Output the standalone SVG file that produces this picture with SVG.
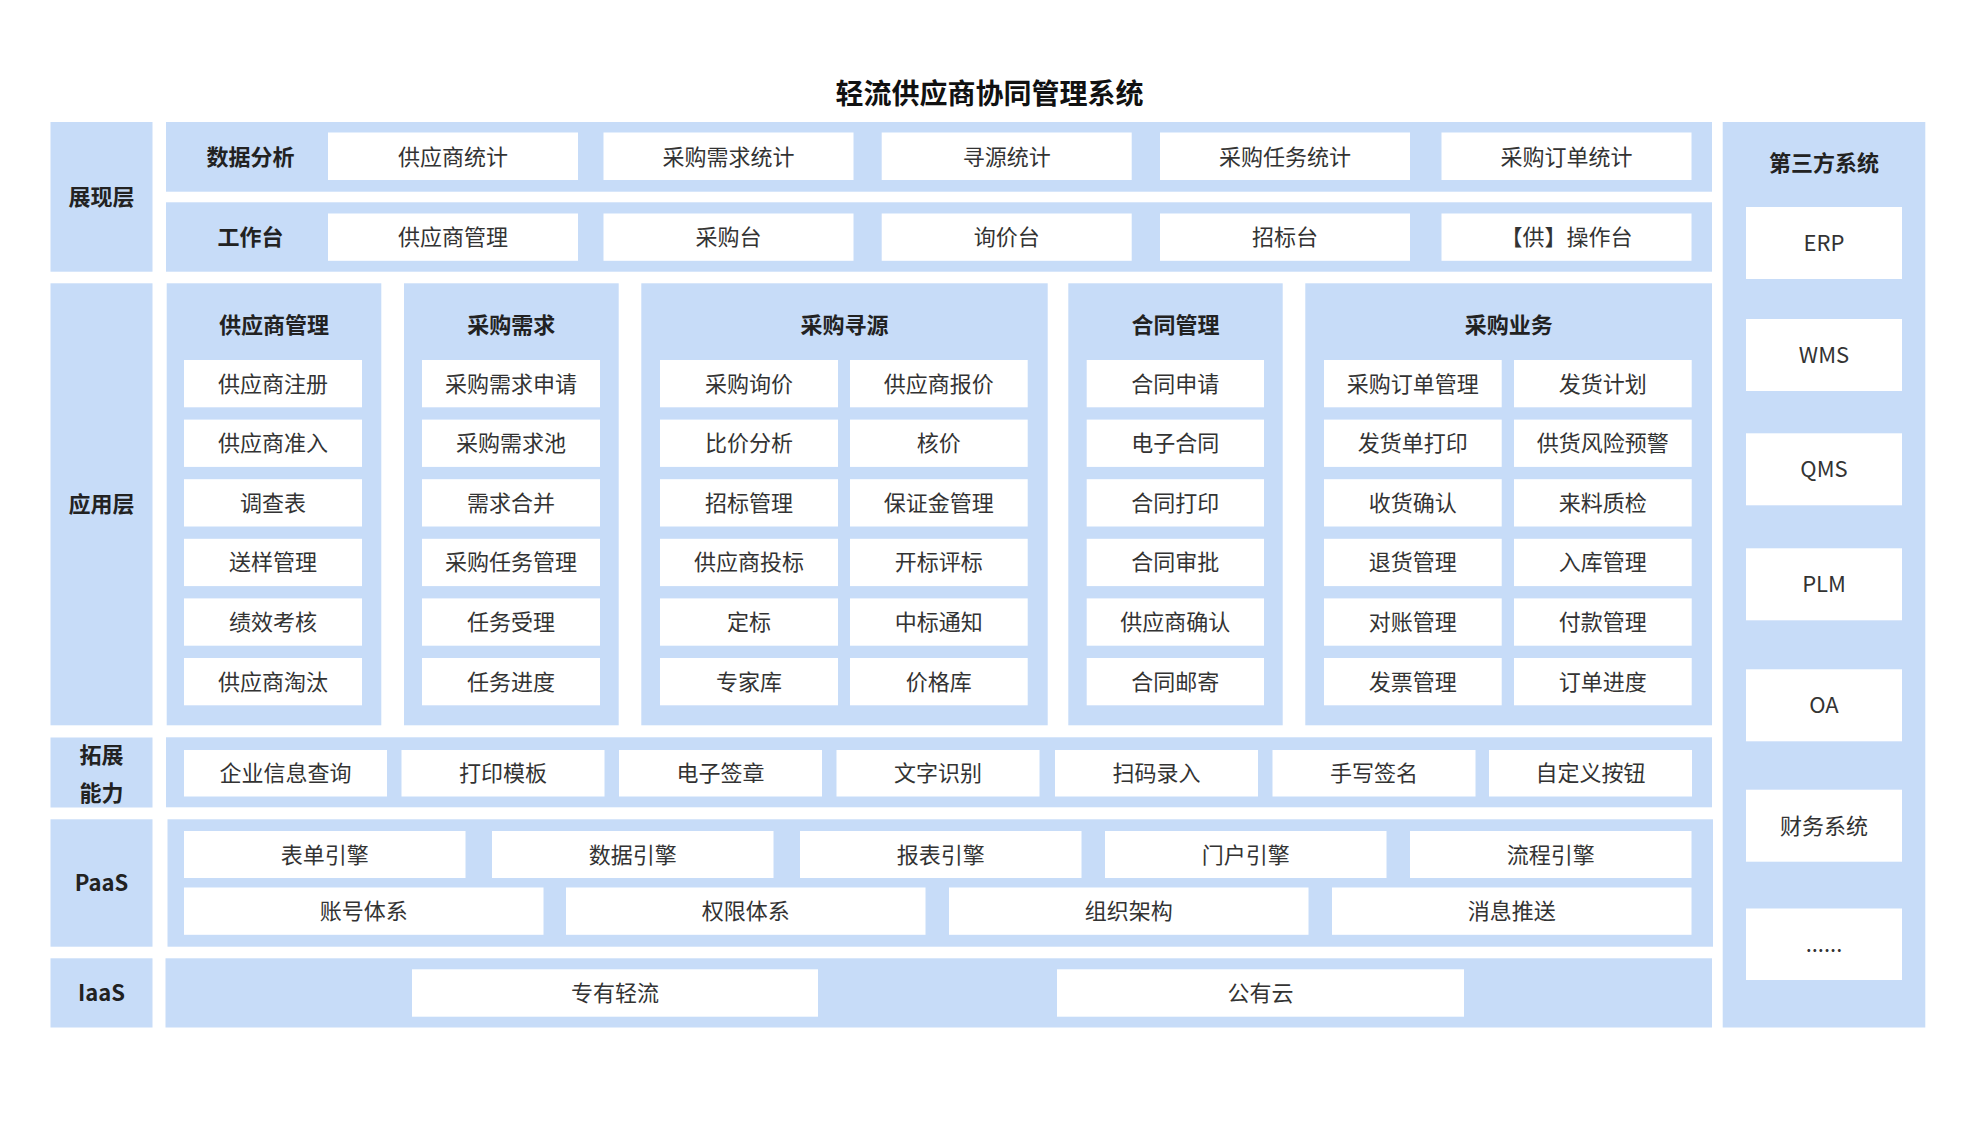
<svg xmlns="http://www.w3.org/2000/svg" width="1968" height="1146" viewBox="0 0 1968 1146">
<style>
.bg{fill:#ffffff}
.band{fill:#c7dcf8}
.box{fill:#ffffff}
text{font-family:"Noto Sans CJK SC","Noto Sans",sans-serif;dominant-baseline:central;text-anchor:middle;transform:translateY(-2px)}
.t{font-size:22px;fill:#333333}
.h{font-size:22px;font-weight:700;fill:#222222}
.title{font-size:28px;font-weight:700;fill:#111111}
</style>
<rect class="bg" x="0" y="0" width="1968" height="1146"/>
<g id="title"><text class="title" x="989.5" y="94">轻流供应商协同管理系统</text></g>

<!-- left layer labels -->
<g id="layer-presentation"><rect class="band" x="50.5" y="122" width="102" height="149.7"/><text class="h" x="101.5" y="197">展现层</text></g>
<g id="layer-application"><rect class="band" x="50.5" y="283.3" width="102" height="442"/><text class="h" x="101.5" y="504">应用层</text></g>
<g id="layer-extension"><rect class="band" x="50.5" y="737.5" width="102" height="70"/><text class="h" x="101.5" y="755">拓展</text><text class="h" x="101.5" y="793">能力</text></g>
<g id="layer-paas"><rect class="band" x="50.5" y="819.3" width="102" height="127.4"/><text class="h" x="101.5" y="883">PaaS</text></g>
<g id="layer-iaas"><rect class="band" x="50.5" y="958.3" width="102" height="69.2"/><text class="h" x="101.5" y="993">IaaS</text></g>

<!-- presentation rows -->
<g id="row-data-analysis">
<rect class="band" x="166" y="122" width="1546" height="69.7"/>
<text class="h" x="250.5" y="156.5">数据分析</text>
<g id="stat-supplier"><rect class="box" x="328" y="132.5" width="250" height="47.5"/><text class="t" x="453" y="156.5">供应商统计</text></g>
<g id="stat-demand"><rect class="box" x="603.5" y="132.5" width="250" height="47.5"/><text class="t" x="728.5" y="156.5">采购需求统计</text></g>
<g id="stat-sourcing"><rect class="box" x="881.7" y="132.5" width="250" height="47.5"/><text class="t" x="1006.7" y="156.5">寻源统计</text></g>
<g id="stat-task"><rect class="box" x="1160" y="132.5" width="250" height="47.5"/><text class="t" x="1285" y="156.5">采购任务统计</text></g>
<g id="stat-order"><rect class="box" x="1441.5" y="132.5" width="250" height="47.5"/><text class="t" x="1566.5" y="156.5">采购订单统计</text></g>
</g>
<g id="row-workbench">
<rect class="band" x="166" y="202.3" width="1546" height="69.4"/>
<text class="h" x="250.5" y="237">工作台</text>
<g id="wb-supplier"><rect class="box" x="328" y="213.5" width="250" height="47.3"/><text class="t" x="453" y="237">供应商管理</text></g>
<g id="wb-purchase"><rect class="box" x="603.5" y="213.5" width="250" height="47.3"/><text class="t" x="728.5" y="237">采购台</text></g>
<g id="wb-inquiry"><rect class="box" x="881.7" y="213.5" width="250" height="47.3"/><text class="t" x="1006.7" y="237">询价台</text></g>
<g id="wb-bidding"><rect class="box" x="1160" y="213.5" width="250" height="47.3"/><text class="t" x="1285" y="237">招标台</text></g>
<g id="wb-supply-ops"><rect class="box" x="1441.5" y="213.5" width="250" height="47.3"/><text class="t" x="1566.5" y="237">【供】操作台</text></g>
</g>

<!-- application panels -->
<g id="panel-supplier">
<rect class="band" x="166.7" y="283.3" width="214.6" height="442"/>
<text class="h" x="274" y="325">供应商管理</text>
<g id="sup-1"><rect class="box" x="184" y="360" width="178" height="47.3"/><text class="t" x="273" y="383.6">供应商注册</text></g>
<g id="sup-2"><rect class="box" x="184" y="419.6" width="178" height="47.3"/><text class="t" x="273" y="443.2">供应商准入</text></g>
<g id="sup-3"><rect class="box" x="184" y="479.2" width="178" height="47.3"/><text class="t" x="273" y="502.8">调查表</text></g>
<g id="sup-4"><rect class="box" x="184" y="538.8" width="178" height="47.3"/><text class="t" x="273" y="562.4">送样管理</text></g>
<g id="sup-5"><rect class="box" x="184" y="598.4" width="178" height="47.3"/><text class="t" x="273" y="622">绩效考核</text></g>
<g id="sup-6"><rect class="box" x="184" y="658" width="178" height="47.3"/><text class="t" x="273" y="681.6">供应商淘汰</text></g>
</g>
<g id="panel-demand">
<rect class="band" x="404" y="283.3" width="214.7" height="442"/>
<text class="h" x="511.3" y="325">采购需求</text>
<g id="dem-1"><rect class="box" x="422" y="360" width="178" height="47.3"/><text class="t" x="511" y="383.6">采购需求申请</text></g>
<g id="dem-2"><rect class="box" x="422" y="419.6" width="178" height="47.3"/><text class="t" x="511" y="443.2">采购需求池</text></g>
<g id="dem-3"><rect class="box" x="422" y="479.2" width="178" height="47.3"/><text class="t" x="511" y="502.8">需求合并</text></g>
<g id="dem-4"><rect class="box" x="422" y="538.8" width="178" height="47.3"/><text class="t" x="511" y="562.4">采购任务管理</text></g>
<g id="dem-5"><rect class="box" x="422" y="598.4" width="178" height="47.3"/><text class="t" x="511" y="622">任务受理</text></g>
<g id="dem-6"><rect class="box" x="422" y="658" width="178" height="47.3"/><text class="t" x="511" y="681.6">任务进度</text></g>
</g>
<g id="panel-sourcing">
<rect class="band" x="641.3" y="283.3" width="406.4" height="442"/>
<text class="h" x="844.5" y="325">采购寻源</text>
<g id="src-1"><rect class="box" x="660" y="360" width="178" height="47.3"/><text class="t" x="749" y="383.6">采购询价</text></g>
<g id="src-2"><rect class="box" x="850" y="360" width="177.7" height="47.3"/><text class="t" x="938.8" y="383.6">供应商报价</text></g>
<g id="src-3"><rect class="box" x="660" y="419.6" width="178" height="47.3"/><text class="t" x="749" y="443.2">比价分析</text></g>
<g id="src-4"><rect class="box" x="850" y="419.6" width="177.7" height="47.3"/><text class="t" x="938.8" y="443.2">核价</text></g>
<g id="src-5"><rect class="box" x="660" y="479.2" width="178" height="47.3"/><text class="t" x="749" y="502.8">招标管理</text></g>
<g id="src-6"><rect class="box" x="850" y="479.2" width="177.7" height="47.3"/><text class="t" x="938.8" y="502.8">保证金管理</text></g>
<g id="src-7"><rect class="box" x="660" y="538.8" width="178" height="47.3"/><text class="t" x="749" y="562.4">供应商投标</text></g>
<g id="src-8"><rect class="box" x="850" y="538.8" width="177.7" height="47.3"/><text class="t" x="938.8" y="562.4">开标评标</text></g>
<g id="src-9"><rect class="box" x="660" y="598.4" width="178" height="47.3"/><text class="t" x="749" y="622">定标</text></g>
<g id="src-10"><rect class="box" x="850" y="598.4" width="177.7" height="47.3"/><text class="t" x="938.8" y="622">中标通知</text></g>
<g id="src-11"><rect class="box" x="660" y="658" width="178" height="47.3"/><text class="t" x="749" y="681.6">专家库</text></g>
<g id="src-12"><rect class="box" x="850" y="658" width="177.7" height="47.3"/><text class="t" x="938.8" y="681.6">价格库</text></g>
</g>
<g id="panel-contract">
<rect class="band" x="1068.3" y="283.3" width="214.4" height="442"/>
<text class="h" x="1175.5" y="325">合同管理</text>
<g id="con-1"><rect class="box" x="1086.7" y="360" width="177.3" height="47.3"/><text class="t" x="1175.3" y="383.6">合同申请</text></g>
<g id="con-2"><rect class="box" x="1086.7" y="419.6" width="177.3" height="47.3"/><text class="t" x="1175.3" y="443.2">电子合同</text></g>
<g id="con-3"><rect class="box" x="1086.7" y="479.2" width="177.3" height="47.3"/><text class="t" x="1175.3" y="502.8">合同打印</text></g>
<g id="con-4"><rect class="box" x="1086.7" y="538.8" width="177.3" height="47.3"/><text class="t" x="1175.3" y="562.4">合同审批</text></g>
<g id="con-5"><rect class="box" x="1086.7" y="598.4" width="177.3" height="47.3"/><text class="t" x="1175.3" y="622">供应商确认</text></g>
<g id="con-6"><rect class="box" x="1086.7" y="658" width="177.3" height="47.3"/><text class="t" x="1175.3" y="681.6">合同邮寄</text></g>
</g>
<g id="panel-business">
<rect class="band" x="1305.3" y="283.3" width="406.7" height="442"/>
<text class="h" x="1508.7" y="325">采购业务</text>
<g id="biz-1"><rect class="box" x="1324" y="360" width="177.7" height="47.3"/><text class="t" x="1412.8" y="383.6">采购订单管理</text></g>
<g id="biz-2"><rect class="box" x="1514" y="360" width="177.7" height="47.3"/><text class="t" x="1602.8" y="383.6">发货计划</text></g>
<g id="biz-3"><rect class="box" x="1324" y="419.6" width="177.7" height="47.3"/><text class="t" x="1412.8" y="443.2">发货单打印</text></g>
<g id="biz-4"><rect class="box" x="1514" y="419.6" width="177.7" height="47.3"/><text class="t" x="1602.8" y="443.2">供货风险预警</text></g>
<g id="biz-5"><rect class="box" x="1324" y="479.2" width="177.7" height="47.3"/><text class="t" x="1412.8" y="502.8">收货确认</text></g>
<g id="biz-6"><rect class="box" x="1514" y="479.2" width="177.7" height="47.3"/><text class="t" x="1602.8" y="502.8">来料质检</text></g>
<g id="biz-7"><rect class="box" x="1324" y="538.8" width="177.7" height="47.3"/><text class="t" x="1412.8" y="562.4">退货管理</text></g>
<g id="biz-8"><rect class="box" x="1514" y="538.8" width="177.7" height="47.3"/><text class="t" x="1602.8" y="562.4">入库管理</text></g>
<g id="biz-9"><rect class="box" x="1324" y="598.4" width="177.7" height="47.3"/><text class="t" x="1412.8" y="622">对账管理</text></g>
<g id="biz-10"><rect class="box" x="1514" y="598.4" width="177.7" height="47.3"/><text class="t" x="1602.8" y="622">付款管理</text></g>
<g id="biz-11"><rect class="box" x="1324" y="658" width="177.7" height="47.3"/><text class="t" x="1412.8" y="681.6">发票管理</text></g>
<g id="biz-12"><rect class="box" x="1514" y="658" width="177.7" height="47.3"/><text class="t" x="1602.8" y="681.6">订单进度</text></g>
</g>

<!-- extension -->
<g id="row-extension">
<rect class="band" x="166" y="737.3" width="1546" height="70"/>
<g id="ext-1"><rect class="box" x="184" y="750" width="203" height="46.5"/><text class="t" x="285.5" y="773.2">企业信息查询</text></g>
<g id="ext-2"><rect class="box" x="401.5" y="750" width="203" height="46.5"/><text class="t" x="503" y="773.2">打印模板</text></g>
<g id="ext-3"><rect class="box" x="619" y="750" width="203" height="46.5"/><text class="t" x="720.5" y="773.2">电子签章</text></g>
<g id="ext-4"><rect class="box" x="836.5" y="750" width="203" height="46.5"/><text class="t" x="938" y="773.2">文字识别</text></g>
<g id="ext-5"><rect class="box" x="1055" y="750" width="203" height="46.5"/><text class="t" x="1156.5" y="773.2">扫码录入</text></g>
<g id="ext-6"><rect class="box" x="1272.5" y="750" width="203" height="46.5"/><text class="t" x="1374" y="773.2">手写签名</text></g>
<g id="ext-7"><rect class="box" x="1489" y="750" width="203" height="46.5"/><text class="t" x="1590.5" y="773.2">自定义按钮</text></g>
</g>

<!-- PaaS -->
<g id="row-paas">
<rect class="band" x="167.5" y="819.3" width="1545.5" height="127.4"/>
<g id="paas-form"><rect class="box" x="184" y="831" width="281.5" height="47"/><text class="t" x="324.8" y="854.5">表单引擎</text></g>
<g id="paas-data"><rect class="box" x="492" y="831" width="281.5" height="47"/><text class="t" x="632.8" y="854.5">数据引擎</text></g>
<g id="paas-report"><rect class="box" x="800" y="831" width="281.5" height="47"/><text class="t" x="940.8" y="854.5">报表引擎</text></g>
<g id="paas-portal"><rect class="box" x="1105" y="831" width="281.5" height="47"/><text class="t" x="1245.8" y="854.5">门户引擎</text></g>
<g id="paas-flow"><rect class="box" x="1410" y="831" width="281.5" height="47"/><text class="t" x="1550.8" y="854.5">流程引擎</text></g>
<g id="paas-account"><rect class="box" x="184" y="887.5" width="359.5" height="47.3"/><text class="t" x="363.8" y="911.2">账号体系</text></g>
<g id="paas-permission"><rect class="box" x="566" y="887.5" width="359.5" height="47.3"/><text class="t" x="745.8" y="911.2">权限体系</text></g>
<g id="paas-org"><rect class="box" x="949" y="887.5" width="359.5" height="47.3"/><text class="t" x="1128.8" y="911.2">组织架构</text></g>
<g id="paas-message"><rect class="box" x="1332" y="887.5" width="359.5" height="47.3"/><text class="t" x="1511.8" y="911.2">消息推送</text></g>
</g>

<!-- IaaS -->
<g id="row-iaas">
<rect class="band" x="165.5" y="958.3" width="1546.5" height="69.2"/>
<g id="iaas-private"><rect class="box" x="412" y="969.3" width="406" height="47.4"/><text class="t" x="615" y="993">专有轻流</text></g>
<g id="iaas-public"><rect class="box" x="1057" y="969.3" width="407" height="47.4"/><text class="t" x="1260.5" y="993">公有云</text></g>
</g>

<!-- third-party -->
<g id="col-third-party">
<rect class="band" x="1722.7" y="122" width="202.6" height="905.5"/>
<text class="h" x="1824" y="163.3">第三方系统</text>
<g id="tp-erp"><rect class="box" x="1746" y="207" width="156" height="72"/><text class="t" x="1824" y="243">ERP</text></g>
<g id="tp-wms"><rect class="box" x="1746" y="319" width="156" height="72"/><text class="t" x="1824" y="355">WMS</text></g>
<g id="tp-qms"><rect class="box" x="1746" y="433.3" width="156" height="72"/><text class="t" x="1824" y="469.3">QMS</text></g>
<g id="tp-plm"><rect class="box" x="1746" y="548.3" width="156" height="72"/><text class="t" x="1824" y="584.3">PLM</text></g>
<g id="tp-oa"><rect class="box" x="1746" y="669.3" width="156" height="72"/><text class="t" x="1824" y="705.3">OA</text></g>
<g id="tp-finance"><rect class="box" x="1746" y="789.7" width="156" height="72"/><text class="t" x="1824" y="825.7">财务系统</text></g>
<g id="tp-more"><rect class="box" x="1746" y="908.5" width="156" height="71.5"/><text class="t" x="1824" y="944">......</text></g>
</g>
<g id="connectors"/>
</svg>
